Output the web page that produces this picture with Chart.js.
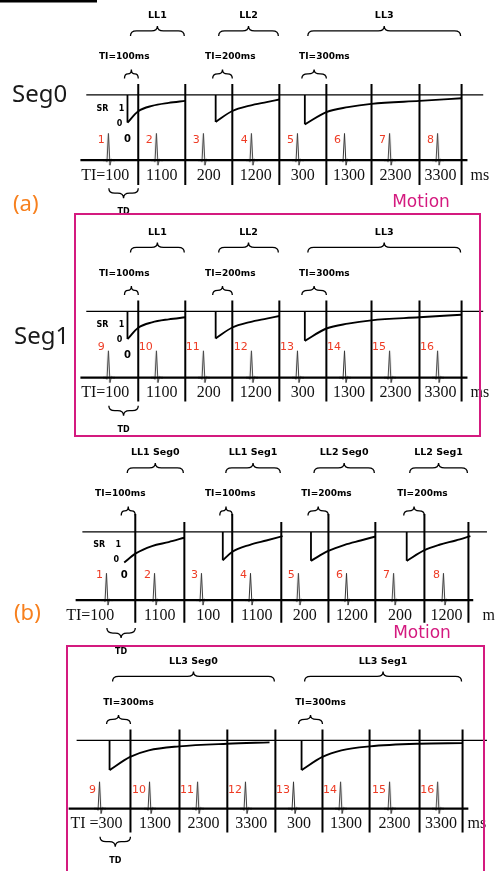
<!DOCTYPE html>
<html>
<head>
<meta charset="utf-8">
<script src="https://cdn.jsdelivr.net/npm/chart.js"></script>
<style>
  html, body { margin: 0; padding: 0; background: #fff; }
  canvas { display: block; }
</style>
</head>
<body>
<canvas id="scheme" width="495" height="871"></canvas>
<script>
const W = 495, H = 871;

// time axis in ms (first R-wave = 0), recovery signal from -1 (inverted) to 1
// (a) Seg0 / Seg1 share the same timing
const beatsA = [0, 1020, 2020, 3040, 4020, 5020, 5980, 7000];
const imagesA = [625, 1625, 2625, 3625, 4625, 5585, 6605, 7500];
const imagesPerLLA = [2, 2, 4];
const llLabelsA = ["LL1", "LL2", "LL3"];
const tiPulseA = ["TI=100ms", "TI=200ms", "TI=300ms"];
const tickLabelsA = ["TI=100", "1100", "200", "1200", "300", "1300", "2300", "3300"];
const recoveryA = [
  [[396, -0.93], [625, -0.14], [917, 0.24], [1271, 0.45], [1625, 0.59]],
  [[2271, -0.88], [2625, -0.12], [3000, 0.26], [3354, 0.50], [3625, 0.68]],
  [[4167, -1.05], [4625, -0.19], [5083, 0.15], [5583, 0.38], [6604, 0.59], [7500, 0.77]]
];
const beatNumbersSeg0 = ["1", "2", "3", "4", "5", "6", "7", "8"];
const beatNumbersSeg1 = ["9", "10", "11", "12", "13", "14", "15", "16"];

// (b) first row
const beatsB0 = [0, 1000, 1975, 2995, 3990, 4990, 5970, 7005];
const imagesB0 = [590, 1610, 2605, 3625, 4605, 5580, 6600, 7515];
const imagesPerLLB0 = [2, 2, 2, 2];
const inversionShownB0 = [false, true, true, true];
const llLabelsB0 = ["LL1 Seg0", "LL1 Seg1", "LL2 Seg0", "LL2 Seg1"];
const tiPulseB0 = ["TI=100ms", "TI=100ms", "TI=200ms", "TI=200ms"];
const tickLabelsB0 = ["TI=100", "1100", "100", "1100", "200", "1200", "200", "1200"];
const recoveryB0 = [
  [[360, -1.14], [591, -0.52], [937, 0.01], [1283, 0.29], [1609, 0.59]],
  [[2409, -0.98], [2601, -0.40], [2974, 0.10], [3314, 0.40], [3652, 0.70]],
  [[4242, -1.02], [4603, -0.33], [4943, 0.10], [5275, 0.40], [5587, 0.68]],
  [[6232, -1.02], [6593, -0.29], [6910, 0.10], [7251, 0.40], [7556, 0.70]]
];

// (b) second row (motion)
const beatsB1 = [0, 1035, 2030, 3020, 4015, 4990, 6005, 7000];
const imagesB1 = [630, 1645, 2635, 3630, 4605, 5580, 6615, 7505];
const imagesPerLLB1 = [4, 4];
const llLabelsB1 = ["LL3 Seg0", "LL3 Seg1"];
const tiPulseB1 = ["TI=300ms", "TI=300ms"];
const tickLabelsB1 = ["TI =300", "1300", "2300", "3300", "300", "1300", "2300", "3300"];
const recoveryB1 = [
  [[197, -1.0], [623, -0.11], [1008, 0.33], [1637, 0.60], [2631, 0.78], [3509, 0.87]],
  [[4172, -1.0], [4604, -0.11], [4996, 0.33], [5584, 0.60], [6606, 0.78], [7499, 0.82]]
];

const panels = [
  { x: "xA", sig: "sA0", ecg: "eA0", beats: beatsA, images: imagesA, perLL: imagesPerLLA,
    ll: llLabelsA, ti: tiPulseA, ticks: tickLabelsA, nums: beatNumbersSeg0, curves: recoveryA, sr: true,
    lay: { x0: 106, pps: 48, top: 91, bot: 120, ecg0: 157, ecg1: 130, topLine: [-480, 7960],
           baseLine: [-605, 7625], vTop: [-11, -11], vBot: 91, firstTickDx: 33, firstTiDx: -14,
           msDx: 9, numDy: 7 } },
  { x: "xA", sig: "sA1", ecg: "eA1", beats: beatsA, images: imagesA, perLL: imagesPerLLA,
    ll: llLabelsA, ti: tiPulseA, ticks: tickLabelsA, nums: beatNumbersSeg1, curves: recoveryA, sr: true,
    lay: { x0: 106, pps: 48, top: 310, bot: 339, ecg0: 377, ecg1: 350, topLine: [-480, 7960],
           baseLine: [-605, 7625], vTop: [-11, -11], vBot: 91, firstTickDx: 33, firstTiDx: -14,
           msDx: 9, numDy: -4 } },
  { x: "xB0", sig: "sB0", ecg: "eB0", beats: beatsB0, images: imagesB0, perLL: imagesPerLLB0,
    shown: inversionShownB0, ll: llLabelsB0, ti: tiPulseB0, ticks: tickLabelsB0, nums: beatNumbersSeg0,
    curves: recoveryB0, sr: true,
    lay: { x0: 104, pps: 49.1, top: 533, bot: 562, ecg0: 602, ecg1: 575, topLine: [-510, 7900],
           baseLine: [-650, 7615], vTop: [-18, -10], vBot: 92, firstTickDx: 45, firstTiDx: -15,
           msDx: 14, numDy: 2 } },
  { x: "xB1", sig: "sB1", ecg: "eB1", beats: beatsB1, images: imagesB1, perLL: imagesPerLLB1,
    ll: llLabelsB1, ti: tiPulseB1, ticks: tickLabelsB1, nums: beatNumbersSeg1, curves: recoveryB1, sr: false,
    lay: { x0: 97, pps: 49.3, top: 744, bot: 774, ecg0: 813, ecg1: 785, topLine: [-485, 8010],
           baseLine: [-650, 7625], vTop: [-11, -11], vBot: 93, firstTickDx: 34, firstTiDx: -2,
           msDx: 5, numDy: 9 } }
];

// one QRS complex, used as the point style of the beats
const qrs = document.createElement("canvas");
qrs.width = 12; qrs.height = 64;
(function () {
  const q = qrs.getContext("2d");
  q.strokeStyle = "#333"; q.lineWidth = 1;
  q.beginPath();
  q.moveTo(0, 32); q.lineTo(3, 32); q.lineTo(4, 33.5); q.lineTo(5.5, 5);
  q.lineTo(7, 37); q.lineTo(8.5, 31); q.lineTo(10, 32); q.lineTo(12, 32);
  q.stroke();
})();

const sigAt = (L, dy) => 1 - 2 * dy / (L.bot - L.top);

const scales = {
  x: { type: "linear", display: false },
  y: { type: "linear", display: false }
};
panels.forEach(p => {
  const L = p.lay;
  const tx = px => (px - L.x0) / L.pps * 1000;
  const ev = px => (L.ecg0 - px) / (L.ecg0 - L.ecg1);
  scales[p.x] = { type: "linear", axis: "x", display: false, bounds: "data", min: tx(0), max: tx(W) };
  scales[p.sig] = { type: "linear", axis: "y", display: false, bounds: "data", min: sigAt(L, H - L.top), max: sigAt(L, -L.top) };
  scales[p.ecg] = { type: "linear", axis: "y", display: false, bounds: "data", min: ev(H), max: ev(0) };
});

const datasets = [];
function line(pts, p, yId, width, extra) {
  return Object.assign({
    data: pts, xAxisID: p.x, yAxisID: yId, showLine: true,
    borderColor: "#000", borderWidth: width, pointRadius: 0, fill: false
  }, extra || {});
}

panels.forEach(p => {
  const L = p.lay;
  datasets.push(line([{ x: L.topLine[0], y: 1 }, { x: L.topLine[1], y: 1 }], p, p.sig, 1.2));
  datasets.push(line([{ x: L.baseLine[0], y: 0 }, { x: L.baseLine[1], y: 0 }], p, p.ecg, 2.2));

  let start = 0;
  p.perLL.forEach(n => {
    for (let i = start; i < start + n; i++) {
      const yTop = sigAt(L, i === start ? L.vTop[0] : L.vTop[1]);
      datasets.push(line([{ x: p.images[i], y: yTop }, { x: p.images[i], y: sigAt(L, L.vBot) }], p, p.sig, 2));
    }
    start += n;
  });

  p.curves.forEach((c, i) => {
    if (!p.shown || p.shown[i]) {
      datasets.push(line([{ x: c[0][0], y: 1 }, { x: c[0][0], y: c[0][1] }], p, p.sig, 1.8));
    }
    datasets.push(line(c.map(([x, y]) => ({ x, y })), p, p.sig, 1.9, { cubicInterpolationMode: "monotone" }));
  });

  datasets.push({
    data: p.beats.map(t => ({ x: t, y: 0 })), xAxisID: p.x, yAxisID: p.ecg,
    showLine: false, pointRadius: 1, pointStyle: qrs
  });
});

function brace(ctx, x1, x2, yBody, dir, h) {
  const xm = (x1 + x2) / 2, r = Math.min(6, (x2 - x1) / 4);
  ctx.beginPath();
  ctx.moveTo(x1, yBody - dir * h);
  ctx.quadraticCurveTo(x1, yBody, x1 + r, yBody);
  ctx.lineTo(xm - r, yBody);
  ctx.quadraticCurveTo(xm, yBody, xm, yBody + dir * h);
  ctx.quadraticCurveTo(xm, yBody, xm + r, yBody);
  ctx.lineTo(x2 - r, yBody);
  ctx.quadraticCurveTo(x2, yBody, x2, yBody - dir * h);
  ctx.stroke();
}

function text(ctx, s, x, y, font, color, align) {
  ctx.font = font;
  ctx.fillStyle = color;
  ctx.textAlign = align || "center";
  ctx.textBaseline = "middle";
  ctx.fillText(s, x, y);
}

const LLFONT = 'bold 9.5px "DejaVu Sans"';
const TIFONT = 'bold 9px "DejaVu Sans"';
const TINY = 'bold 8px "DejaVu Sans"';
const SERIF = '16px "Liberation Serif"';
const RED = "#ee3b24", ORANGE = "#f7801e", MAGENTA = "#d41a7f";

const ink = {
  id: "ink",
  afterDraw(chart) {
    const ctx = chart.ctx;
    ctx.save();
    ctx.strokeStyle = "#000";
    ctx.lineWidth = 1.3;

    panels.forEach(p => {
      const L = p.lay;
      const xs = chart.scales[p.x], ys = chart.scales[p.sig], ye = chart.scales[p.ecg];
      const X = t => xs.getPixelForValue(t);
      const topY = ys.getPixelForValue(1);
      const baseY = ye.getPixelForValue(0);
      const peakY = ye.getPixelForValue(1);

      let start = 0;
      p.curves.forEach((c, g) => {
        const n = p.perLL[g];
        const inv = X(c[0][0]);
        const first = X(p.images[start]), last = X(p.images[start + n - 1]);
        brace(ctx, inv + 3, last - 1, topY - 64, -1, 5);
        text(ctx, p.ll[g], (inv + last + 2) / 2, topY - 79, LLFONT, "#000");
        brace(ctx, inv - 3, first, topY - 21, -1, 4.5);
        text(ctx, p.ti[g], first + (g === 0 ? L.firstTiDx : -2), topY - 38, TIFONT, "#000");
        start += n;
      });

      const td0 = X(p.beats[0]), td1 = X(p.images[0]);
      brace(ctx, td0, td1, baseY + 33, 1, 5);
      text(ctx, "TD", (td0 + td1) / 2, baseY + 52, TINY, "#000");

      p.ticks.forEach((s, i) => {
        const cx = i === 0 ? X(p.images[0]) - L.firstTickDx : (X(p.images[i - 1]) + X(p.images[i])) / 2;
        text(ctx, s, cx, baseY + 15.5, SERIF, "#111");
      });
      text(ctx, "ms", X(p.images[p.images.length - 1]) + L.msDx, baseY + 15.5, SERIF, "#111", "left");

      p.nums.forEach((s, i) => {
        text(ctx, s, X(p.beats[i]) - 4, peakY + L.numDy, '11px "DejaVu Sans"', RED, "right");
      });

      if (p.sr) {
        const x0 = X(p.curves[0][0][0]);
        text(ctx, "SR", x0 - 25, topY + 13.5, TINY, "#000");
        text(ctx, "1", x0 - 6, topY + 13.5, TINY, "#000");
        text(ctx, "0", x0 - 8, topY + 28.5, TINY, "#000");
        text(ctx, "0", x0, topY + 44, 'bold 10px "DejaVu Sans"', "#000");
      }
    });

    // page decorations
    ctx.fillStyle = "#000";
    ctx.fillRect(0, 0, 97, 2.5);
    text(ctx, "Seg0", 12, 95, '24px "Noto Sans"', "#1a1a1a", "left");
    text(ctx, "Seg1", 14, 337, '24px "Noto Sans"', "#1a1a1a", "left");
    text(ctx, "(a)", 13, 205, '22px "Noto Sans"', ORANGE, "left");
    text(ctx, "(b)", 14, 614, '22px "Noto Sans"', ORANGE, "left");
    text(ctx, "Motion", 421, 203, '17px "DejaVu Sans"', MAGENTA);
    text(ctx, "Motion", 422, 634, '17px "DejaVu Sans"', MAGENTA);
    ctx.strokeStyle = MAGENTA;
    ctx.lineWidth = 2;
    ctx.strokeRect(75, 214, 405, 222);
    ctx.strokeRect(67, 646, 417, 240);
    ctx.restore();
  }
};

new Chart(document.getElementById("scheme"), {
  type: "scatter",
  data: { datasets: datasets },
  options: {
    responsive: false,
    animation: false,
    devicePixelRatio: 1,
    events: [],
    layout: { padding: 0 },
    scales: scales,
    plugins: { legend: { display: false }, tooltip: { enabled: false } }
  },
  plugins: [ink]
});
</script>
</body>
</html>
